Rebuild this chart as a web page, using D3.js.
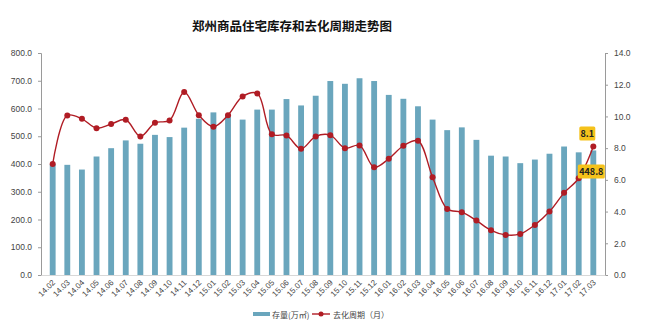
<!DOCTYPE html>
<html>
<head>
<meta charset="utf-8">
<script src="https://cdn.jsdelivr.net/npm/d3@7"></script>
<style>
  body { margin: 0; background: #fff; }
  svg { font-family: "Noto Sans CJK SC", "Noto Sans", sans-serif; }
</style>
</head>
<body>
<svg id="chart" width="662" height="327"></svg>
<script>
// 月份
const months = [
  "14.02", "14.03", "14.04", "14.05", "14.06", "14.07", "14.08", "14.09", "14.10", "14.11", "14.12",
  "15.01", "15.02", "15.03", "15.04", "15.05", "15.06", "15.07", "15.08", "15.09", "15.10", "15.11", "15.12",
  "16.01", "16.02", "16.03", "16.04", "16.05", "16.06", "16.07", "16.08", "16.09", "16.10", "16.11", "16.12",
  "17.01", "17.02", "17.03",
];
// 存量（万㎡）
const stock = [
  400, 397, 380, 427, 457, 485, 473, 505, 497, 531, 563,
  586, 580, 560, 596, 596, 634, 611, 646, 699, 689, 709, 699,
  649, 635, 608, 560, 522, 532, 487, 430, 427, 403, 416, 437,
  463, 442, 448.8,
];
// 去化周期（月）
const cycle = [
  7.0, 10.06, 9.85, 9.26, 9.52, 9.79, 8.74, 9.6, 9.75, 11.54, 10.08,
  9.35, 10.08, 11.26, 11.45, 8.88, 8.8, 7.96, 8.74, 8.82, 8.0, 8.17, 6.8,
  7.33, 8.15, 8.46, 6.17, 4.17, 3.96, 3.43, 2.82, 2.53, 2.59, 3.16, 4.0,
  5.18, 6.1, 8.1,
];
const leftTicks = [0, 100, 200, 300, 400, 500, 600, 700, 800];
const rightTicks = [0, 2, 4, 6, 8, 10, 12, 14];

const barColor = "#6aa6bd";
const lineColor = "#b01c24";

const svg = d3.select("#chart");
const plotLeft = 41, plotRight = 605, plotTop = 53, plotBottom = 275;

const x = d3.scaleBand().domain(months).range([plotLeft, plotRight]).padding(0.6);
const yL = d3.scaleLinear().domain([0, 800]).range([plotBottom, plotTop]);
const yR = d3.scaleLinear().domain([0, 14]).range([plotBottom, plotTop]);

// 标题
svg.append("text")
  .attr("x", 292).attr("y", 31)
  .attr("text-anchor", "middle")
  .attr("font-size", 12.5).attr("font-weight", "bold")
  .attr("fill", "#111")
  .text("郑州商品住宅库存和去化周期走势图");

// 坐标轴
const axisL = svg.append("g")
  .attr("transform", `translate(${plotLeft},0)`)
  .call(d3.axisLeft(yL).tickValues(leftTicks).tickFormat(d3.format(".1f")).tickSize(3));
const axisR = svg.append("g")
  .attr("transform", `translate(${plotRight},0)`)
  .call(d3.axisRight(yR).tickValues(rightTicks).tickFormat(d3.format(".1f")).tickSize(3));
[axisL, axisR].forEach((g) => {
  g.selectAll("path, line").attr("stroke", "#9a9a9a");
  g.selectAll("text").attr("fill", "#444").attr("font-size", 8.5);
});
axisL.selectAll("text").attr("dx", -3);
axisR.selectAll("text").attr("dx", 3);

// 柱
svg.append("g")
  .selectAll("rect")
  .data(months)
  .join("rect")
  .attr("x", (d) => x(d))
  .attr("y", (d, i) => yL(stock[i]))
  .attr("width", x.bandwidth())
  .attr("height", (d, i) => plotBottom - yL(stock[i]))
  .attr("fill", barColor);

// x 轴标签
const xAxis = svg.append("g")
  .attr("transform", `translate(0,${plotBottom})`)
  .call(d3.axisBottom(x).tickSize(0));
xAxis.select("path").attr("stroke", "#d8d8d8");
xAxis.selectAll("text")
  .attr("font-size", 8).attr("fill", "#444")
  .attr("text-anchor", "end")
  .attr("transform", "translate(1,6) rotate(-45)")
  .attr("dy", "0.35em").attr("y", 0);

// 折线
const line = d3.line()
  .x((d, i) => x(months[i]) + x.bandwidth() / 2)
  .y((d) => yR(d))
  .curve(d3.curveCatmullRom.alpha(0.5));
svg.append("path")
  .datum(cycle)
  .attr("d", line)
  .attr("fill", "none")
  .attr("stroke", lineColor)
  .attr("stroke-width", 1.4);
svg.append("g")
  .selectAll("circle")
  .data(cycle)
  .join("circle")
  .attr("cx", (d, i) => x(months[i]) + x.bandwidth() / 2)
  .attr("cy", (d) => yR(d))
  .attr("r", 3)
  .attr("fill", lineColor);

// 数据标签
function tag(cx, cy, txt, w) {
  svg.append("rect")
    .attr("x", cx - w / 2).attr("y", cy - 7)
    .attr("width", w).attr("height", 14)
    .attr("rx", 1.5)
    .attr("fill", "#f5c21b");
  svg.append("text")
    .attr("x", cx).attr("y", cy + 3.5)
    .attr("text-anchor", "middle")
    .attr("font-size", 9).attr("font-weight", "bold")
    .attr("fill", "#222")
    .text(txt);
}
const lastX = x(months[months.length - 1]) + x.bandwidth() / 2;
tag(lastX - 6, yR(cycle[cycle.length - 1]) - 13, d3.format(".1f")(cycle[cycle.length - 1]), 16);
tag(lastX - 2, yL(stock[stock.length - 1]) + 21, d3.format(".1f")(stock[stock.length - 1]), 27);

// 图例
const lg = svg.append("g").attr("transform", "translate(253,314)");
lg.append("rect").attr("x", 0).attr("y", -2).attr("width", 17).attr("height", 4).attr("fill", barColor);
lg.append("text").attr("x", 19).attr("y", 3.5).attr("font-size", 8).attr("fill", "#444").text("存量(万㎡)");
lg.append("line").attr("x1", 59).attr("x2", 77).attr("y1", 0).attr("y2", 0).attr("stroke", lineColor).attr("stroke-width", 1.4);
lg.append("circle").attr("cx", 68).attr("cy", 0).attr("r", 2.5).attr("fill", lineColor);
lg.append("text").attr("x", 80).attr("y", 3.5).attr("font-size", 8).attr("fill", "#444").text("去化周期（月）");
</script>
</body>
</html>
